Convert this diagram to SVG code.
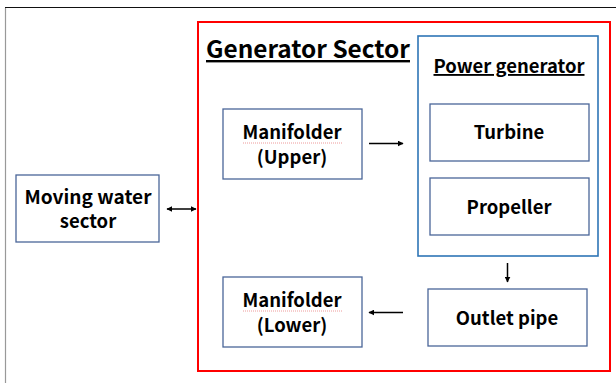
<svg xmlns="http://www.w3.org/2000/svg" width="616" height="383" viewBox="0 0 616 383">
<defs>
<marker id="ah" viewBox="0 0 10 10" refX="9" refY="5" markerWidth="6" markerHeight="6" markerUnits="userSpaceOnUse" orient="auto-start-reverse">
<path d="M0,0 L10,5 L0,10 z" fill="#000"/>
</marker>
<style>
.box{fill:#fff;stroke:#4a6699;stroke-width:1.3}
.t{font-family:"Noto Sans CJK KR","Noto Sans",sans-serif;font-weight:bold;font-size:18.5px;fill:#000;text-anchor:middle}
.c{stroke:#000;stroke-width:1.5;fill:none;marker-end:url(#ah)}
.sq{stroke:#e88080;stroke-width:0.8;fill:none;stroke-dasharray:1 1}
</style>
</defs>
<rect x="0" y="0" width="616" height="383" fill="#fff"/>
<path d="M5.5,383 V8" stroke="#999" stroke-width="1.2"/>
<path d="M5,7.5 H616" stroke="#111" stroke-width="1"/>
<g id="generator-sector">
<rect x="198" y="22" width="412" height="349" fill="none" stroke="#ff0000" stroke-width="2"/>
<text x="206" y="58" font-family="Noto Sans CJK KR,Noto Sans,sans-serif" font-weight="bold" font-size="24" text-decoration="underline" textLength="204" lengthAdjust="spacingAndGlyphs">Generator Sector</text>
</g>
<g id="power-generator">
<rect x="418" y="36" width="180" height="220" fill="none" stroke="#2e75b6" stroke-width="1.6"/>
<text x="509" y="73" class="t" text-decoration="underline" textLength="151" lengthAdjust="spacingAndGlyphs">Power generator</text>
</g>
<g id="moving-water">
<rect class="box" x="16" y="175" width="143" height="67"/>
<text x="88" y="204" class="t" textLength="127" lengthAdjust="spacingAndGlyphs">Moving water</text>
<text x="88" y="228" class="t">sector</text>
</g>
<g id="manifolder-upper">
<rect class="box" x="223" y="109" width="139" height="70"/>
<text x="292" y="139" class="t" textLength="99" lengthAdjust="spacingAndGlyphs">Manifolder</text>
<path class="sq" d="M243,143 H342"/>
<text x="292" y="164" class="t">(Upper)</text>
</g>
<g id="turbine">
<rect class="box" x="430" y="104" width="159" height="57"/>
<text x="509" y="139" class="t">Turbine</text>
</g>
<g id="propeller">
<rect class="box" x="430" y="178" width="159" height="57"/>
<text x="509" y="214" class="t">Propeller</text>
</g>
<g id="outlet-pipe">
<rect class="box" x="428" y="289" width="159" height="57"/>
<text x="507" y="325" class="t">Outlet pipe</text>
</g>
<g id="manifolder-lower">
<rect class="box" x="223" y="277" width="139" height="70"/>
<text x="292" y="307" class="t" textLength="99" lengthAdjust="spacingAndGlyphs">Manifolder</text>
<path class="sq" d="M243,311 H342"/>
<text x="292" y="332" class="t">(Lower)</text>
</g>
<g id="connectors">
<path class="c" d="M167,209 H196" marker-start="url(#ah)"/>
<path class="c" d="M369,143.5 H403"/>
<path class="c" d="M507.5,263 V282"/>
<path class="c" d="M403,312.5 H369"/>
</g>
</svg>
